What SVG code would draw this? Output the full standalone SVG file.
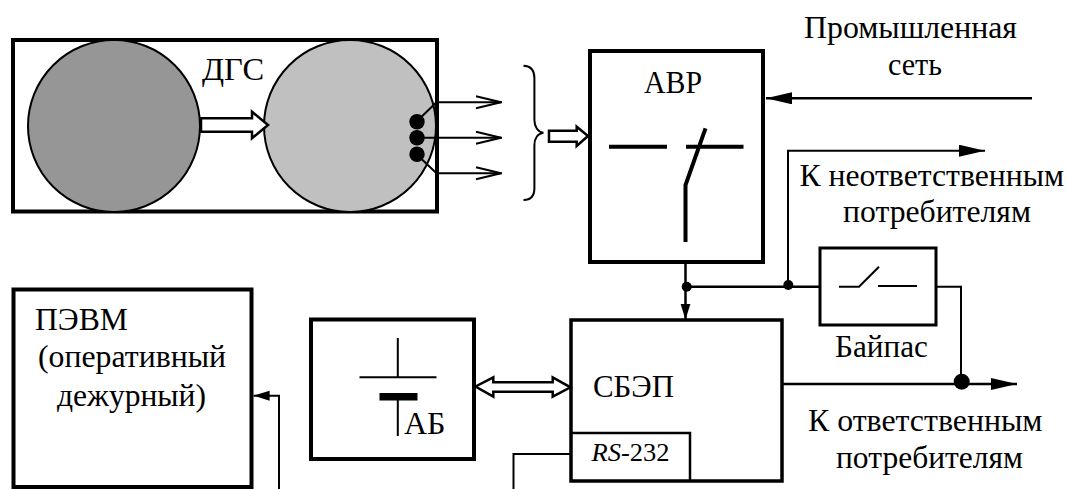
<svg xmlns="http://www.w3.org/2000/svg" width="1067" height="489" viewBox="0 0 1067 489">
<style>
text{font-family:"Liberation Serif","Times New Roman",serif;font-size:31px;fill:#000}
.box{fill:#fff;stroke:#000;stroke-width:4}
.thin{fill:none;stroke:#000;stroke-width:2}
.med{fill:none;stroke:#000;stroke-width:2.500}
.sw{fill:none;stroke:#000;stroke-width:4}
.hollow{fill:#fff;stroke:#000;stroke-width:2.500}
.dot{fill:#000;stroke:none}
.disc{stroke:#000;stroke-width:2}
</style>
<defs>
<marker id="head" markerUnits="userSpaceOnUse" markerWidth="28" markerHeight="14" refX="26" refY="6" orient="auto"><path d="M0 0L26 6L0 12Z" fill="#000"/></marker>
<marker id="short" markerUnits="userSpaceOnUse" markerWidth="18" markerHeight="12" refX="16" refY="5" orient="auto"><path d="M0 0L16 5L0 10Z" fill="#000"/></marker>
<marker id="open" markerUnits="userSpaceOnUse" markerWidth="30" markerHeight="16" refX="27" refY="7" orient="auto"><path d="M1 1L26 7L1 13" fill="none" stroke="#000" stroke-width="2"/></marker>
</defs>
<g id="dgs">
<rect class="box" x="13" y="40" width="424" height="171.500"/>
<ellipse class="disc" cx="114" cy="126" rx="86" ry="86" fill="#969696"/>
<ellipse class="disc" cx="350" cy="126" rx="86" ry="86" fill="#c0c0c0"/>
<text x="202" y="80" textLength="62" lengthAdjust="spacingAndGlyphs">ДГС</text>
<circle class="dot" cx="417" cy="121.700" r="7.700"/>
<circle class="dot" cx="417" cy="137.700" r="7.700"/>
<circle class="dot" cx="417" cy="154.300" r="7.700"/>
</g>
<g id="avr">
<rect class="box" x="590" y="51" width="173" height="211"/>
<text x="644" y="93" textLength="58" lengthAdjust="spacingAndGlyphs">АВР</text>
<path class="sw" d="M609 146.700H667M686 146.700H743.500M705.500 128.300L685.500 185V242"/>
</g>
<g id="bypass">
<rect class="box" style="stroke-width:3" x="820" y="248" width="116" height="77"/>
<path class="thin" d="M839 286.700H859L879 266.700M878 286H917"/>
<text x="835" y="356.700" textLength="93" lengthAdjust="spacingAndGlyphs">Байпас</text>
</g>
<g id="sbep">
<rect class="box" style="stroke-width:3.500" x="571" y="320" width="211" height="161"/>
<path class="med" d="M571 433H690V481"/>
<text x="593" y="397" textLength="81" lengthAdjust="spacingAndGlyphs">СБЭП</text>
<text x="591.500" y="460.700" style="font-size:25px" textLength="78" lengthAdjust="spacingAndGlyphs"><tspan font-style="italic">RS</tspan>-232</text>
</g>
<g id="ab">
<rect class="box" x="311" y="319.500" width="163" height="139.500"/>
<path class="thin" d="M397.800 338V377.300M359.500 377.300H436.500M397.800 400V436"/>
<rect class="dot" x="379.500" y="393" width="38" height="7.500"/>
<text x="404" y="434" textLength="41.500" lengthAdjust="spacingAndGlyphs">АБ</text>
</g>
<g id="pevm">
<rect class="box" x="13.500" y="289.500" width="238" height="197.500"/>
<text x="35" y="330" textLength="93" lengthAdjust="spacingAndGlyphs">ПЭВМ</text>
<text x="38" y="366.700" textLength="188" lengthAdjust="spacingAndGlyphs">(оперативный</text>
<text x="57" y="406" textLength="149" lengthAdjust="spacingAndGlyphs">дежурный)</text>
</g>
<g id="labels">
<text x="804" y="38" textLength="213" lengthAdjust="spacingAndGlyphs">Промышленная</text>
<text x="888" y="75" textLength="54" lengthAdjust="spacingAndGlyphs">сеть</text>
<text x="799.500" y="186" textLength="264.500" lengthAdjust="spacingAndGlyphs">К неответственным</text>
<text x="843" y="221.700" textLength="188" lengthAdjust="spacingAndGlyphs">потребителям</text>
<text x="808" y="430.700" textLength="234.500" lengthAdjust="spacingAndGlyphs">К ответственным</text>
<text x="836" y="467.700" textLength="187" lengthAdjust="spacingAndGlyphs">потребителям</text>
</g>
<g id="connectors">
<path class="hollow" d="M201 118.300H252V111.700L268 125L252 138.300V131.700H201Z"/>
<path class="thin" d="M421.500 116.700L436.500 102.300H502" marker-end="url(#open)"/>
<path class="thin" d="M417 137.700H502" marker-end="url(#open)"/>
<path class="thin" d="M421.500 159L436.500 173.300H502" marker-end="url(#open)"/>
<path class="thin" d="M523.500 65.700C531 66 534.400 70 534.400 78V120C534.400 127 538 132 543.400 132.700C538 133.500 534.400 138 534.400 145V188C534.400 196 531 200 523.500 200"/>
<path class="hollow" d="M549 130.700H576.700V126.700L588 136L576.700 146V141.700H549Z"/>
<path class="med" d="M1032 98.300H766" marker-end="url(#head)"/>
<path class="thin" d="M788 285V150.700H985" marker-end="url(#head)"/>
<path class="med" d="M685.500 262V319.500" marker-end="url(#short)"/>
<path class="med" d="M686 286.700H820"/>
<circle class="dot" cx="686.700" cy="286.700" r="5"/>
<circle class="dot" cx="788.300" cy="285" r="5"/>
<path class="thin" d="M936.700 286.700H961V381"/>
<path class="med" d="M782 384H1017" marker-end="url(#head)"/>
<circle class="dot" cx="961.700" cy="381.700" r="8"/>
<path class="hollow" d="M475.500 386.500L493.300 377.300V382.300H552.700V377.300L570.500 387.300L552.700 396.700V391.700H493.300V396.700Z"/>
<path class="thin" d="M571 454H513.500V489"/>
<path class="thin" d="M279 489V395.700H253.600" marker-end="url(#short)"/>
</g>
</svg>
